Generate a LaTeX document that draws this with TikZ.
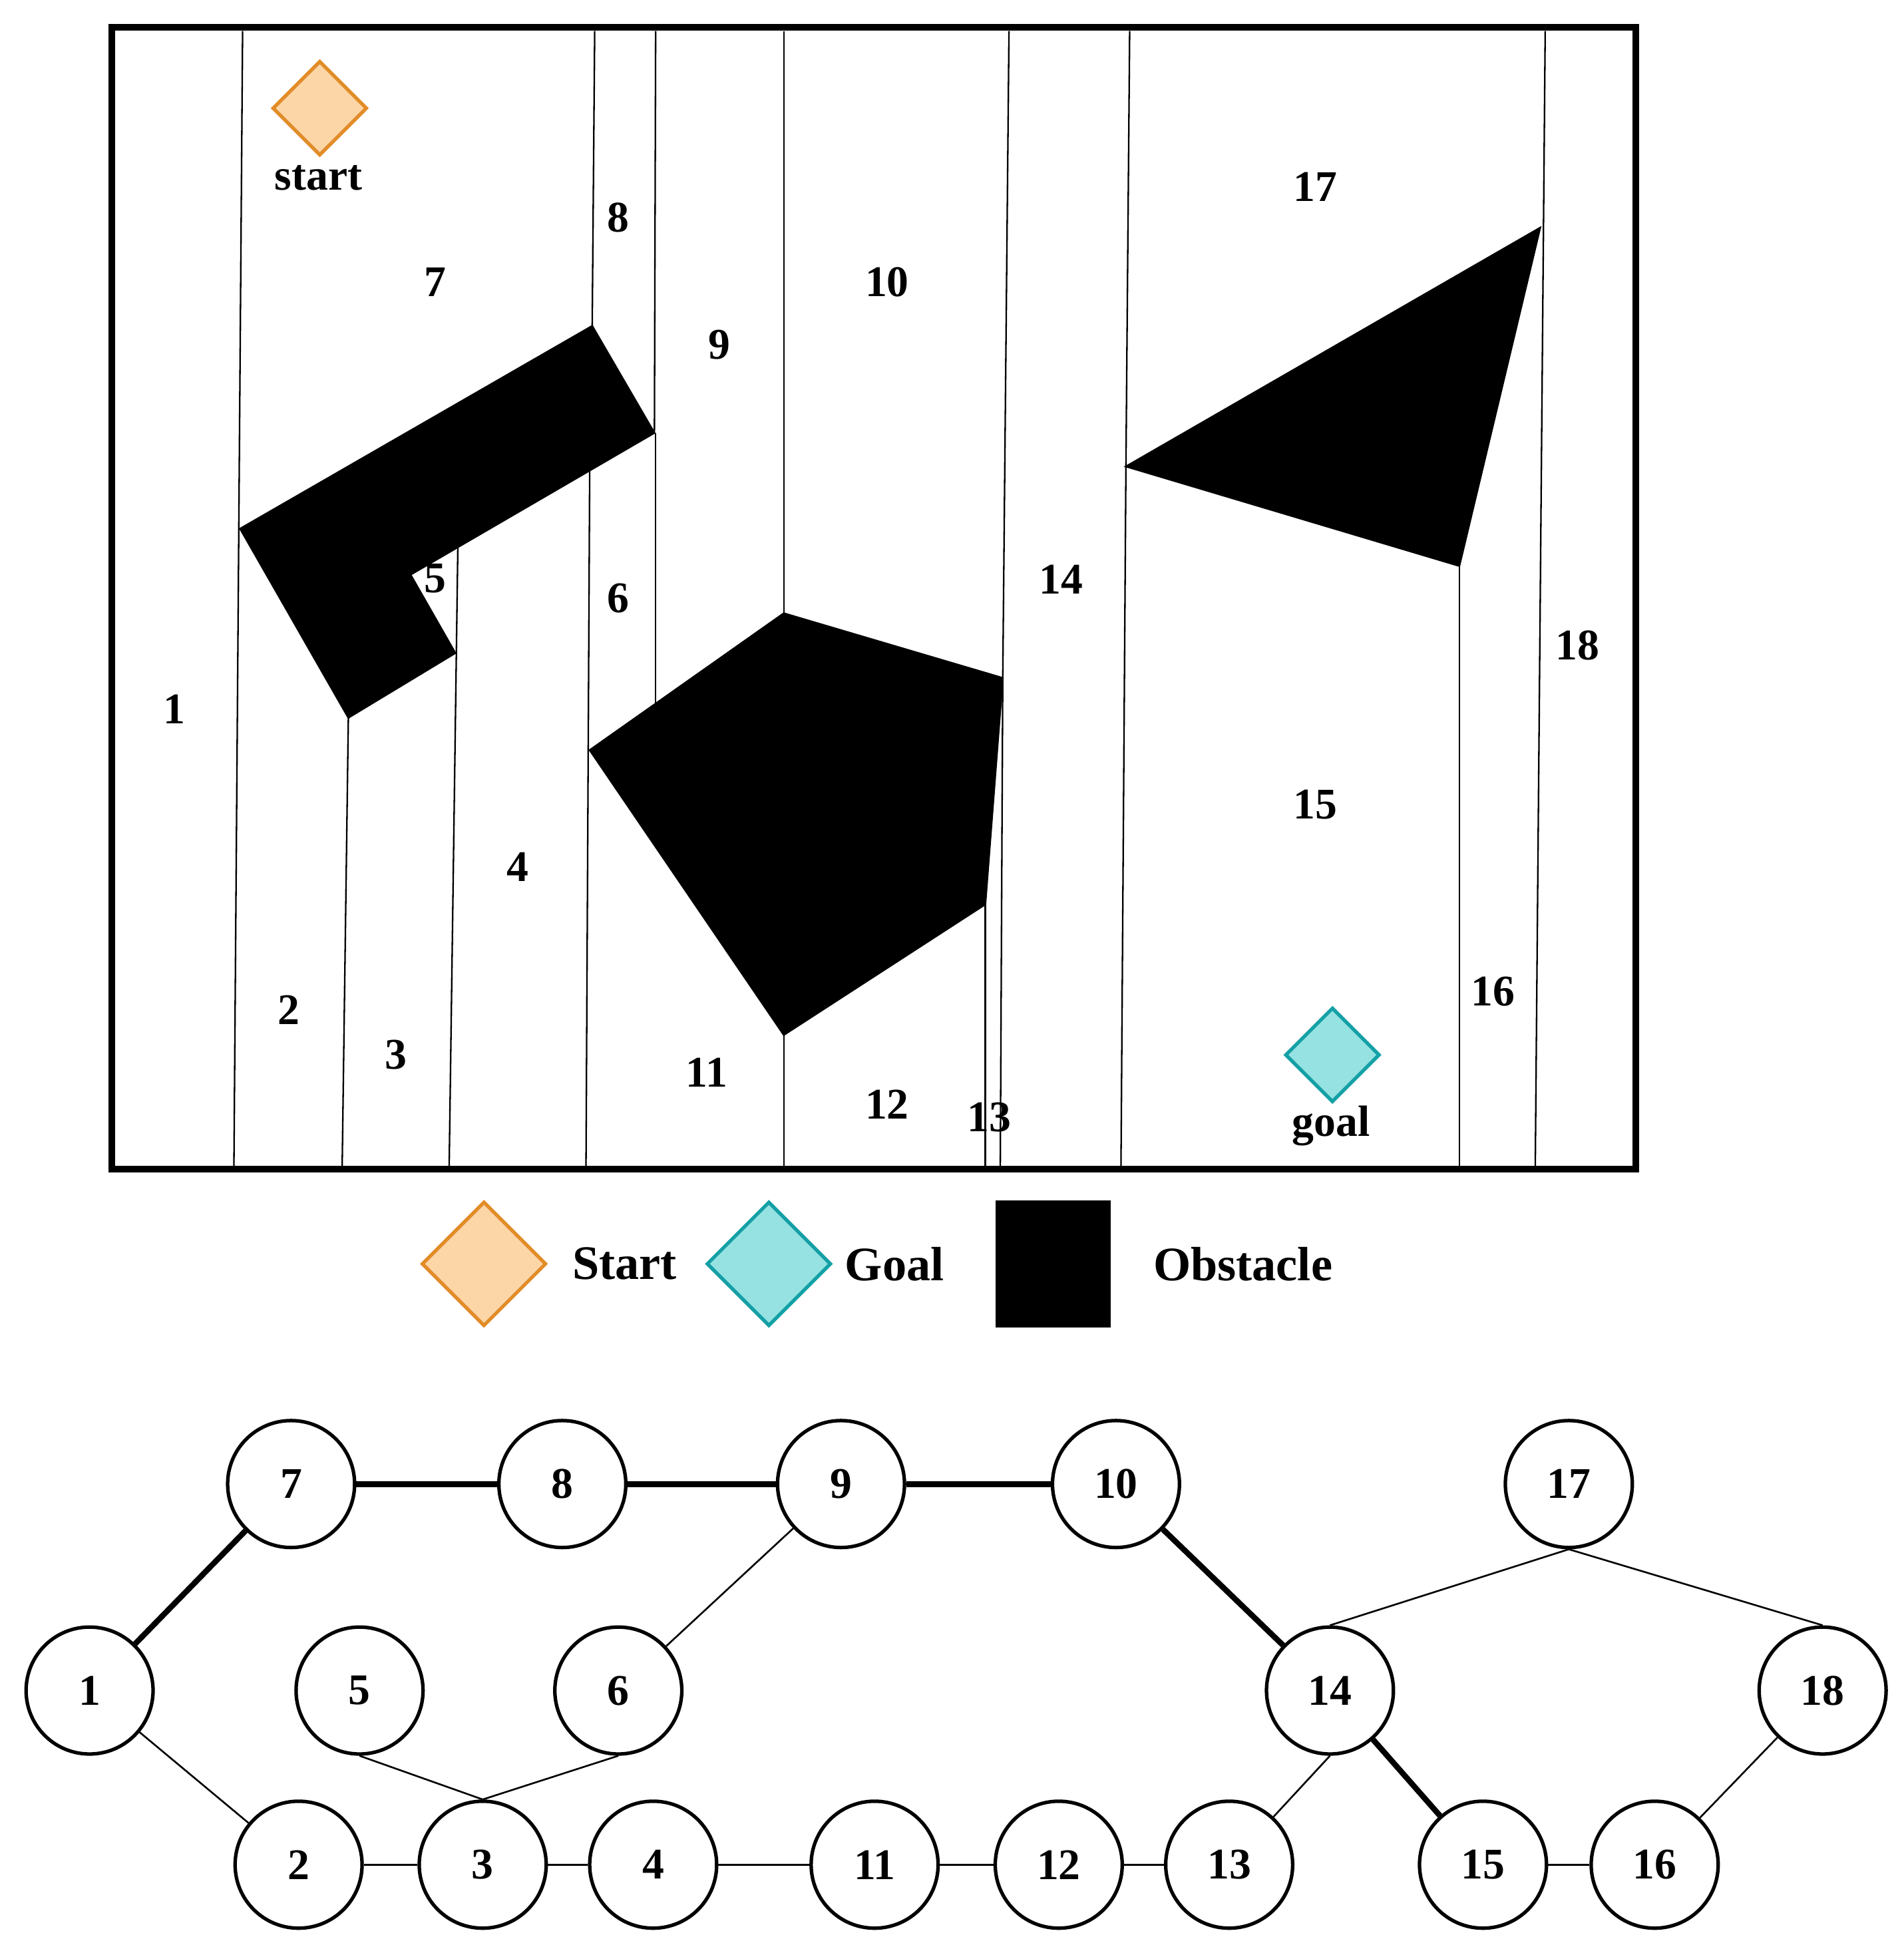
\documentclass[tikz,border=0pt]{standalone}
\usepackage{fontspec}
\setmainfont{Liberation Serif}
\usetikzlibrary{shapes.geometric}
\definecolor{startc}{RGB}{253,214,168}
\definecolor{startd}{RGB}{226,140,40}
\definecolor{goalc}{RGB}{150,226,226}
\definecolor{goald}{RGB}{20,160,165}
\begin{document}
\begin{tikzpicture}[x=0.01cm,y=-0.01cm,
  lab/.style={font=\fontsize{10}{12}\selectfont\bfseries},
  leg/.style={font=\fontsize{11}{13}\selectfont\bfseries},
  thinl/.style={line width=0.35pt},
  obs/.style={fill=black,draw=black},
  gn/.style={circle,draw,line width=0.8pt,minimum size=1.02cm,inner sep=0pt,font=\fontsize{10}{12}\selectfont\bfseries},
  te/.style={line width=1.3pt},
  fe/.style={line width=0.4pt}]
\useasboundingbox (0,0) rectangle (1530,1570);
% obstacles
\path[obs] (193,425)--(476,262)--(526,348)--(330,462)--(366,525)--(280,577)--cycle;
\path[obs] (630,493)--(806,545)--(792,727)--(630,832)--(474,603)--cycle;
\path[obs] (905,375)--(1238,183)--(1173,455)--cycle;
% decomposition lines
\draw[thinl] (195,25)--(188,940);
\draw[thinl] (280,577)--(275,940);
\draw[thinl] (368,440)--(361,940);
\draw[thinl] (478,25)--(476,262);
\draw[thinl] (474,375)--(471,940);
\draw[thinl] (527,25)--(526,348);
\draw[thinl] (527,348)--(527,567);
\draw[thinl] (630,25)--(630,493);
\draw[thinl] (630,832)--(630,940);
\draw[thinl] (811,25)--(806,545)--(804,940);
\draw[thinl] (792,727)--(792,940);
\draw[thinl] (908,25)--(905,375)--(901,940);
\draw[thinl] (1173,455)--(1173,940);
\draw[thinl] (1242,25)--(1234,940);
\draw[line width=1.5pt] (90,22) rectangle (1315,940);
% start / goal
\node[diamond,draw=startd,fill=startc,minimum size=0.76cm,inner sep=0pt,line width=0.8pt] (st) at (257,87) {};
\node[lab] (stl) at (256,143) {start};
\node[diamond,draw=goald,fill=goalc,minimum size=0.76cm,inner sep=0pt,line width=0.8pt] (go) at (1071,848) {};
\node[lab] (gol) at (1070,905) {goal};
% region labels
\foreach \t/\x/\y in {1/140/570,2/232/812,3/318/848,4/416/697,5/350/465,6/497/481,7/350/227,8/497/175,9/578/277,10/713/227,11/568/862,12/713/888,13/795/898,14/853/466,15/1057/647,16/1200/797,17/1057/150,18/1268/519}
  \node[lab] (r\t) at (\x,\y) {\t};
% legend
\node[diamond,draw=startd,fill=startc,minimum size=1.0cm,inner sep=0pt,line width=0.8pt] (ls) at (389,1016) {};
\node[leg] (lst) at (502,1016) {Start};
\node[diamond,draw=goald,fill=goalc,minimum size=1.0cm,inner sep=0pt,line width=0.8pt] (lg) at (618,1016) {};
\node[leg] (lgt) at (719,1016) {Goal};
\node[fill=black,minimum width=0.93cm,minimum height=1.02cm,inner sep=0pt] (lo) at (846.5,1016) {};
\node[leg] (lot) at (999,1016) {Obstacle};
% graph
\foreach \n/\x/\y in {7/234/1193,8/452/1193,9/676/1193,10/897/1193,17/1261/1193,1/72/1359,5/289/1359,6/497/1359,14/1069/1359,18/1465/1359,2/240/1499,3/388/1499,4/525/1499,11/703/1499,12/851/1499,13/988/1499,15/1192/1499,16/1330/1499}
  \node[gn] (n\n) at (\x,\y) {\n};
\draw[te] (n1)--(n7); \draw[te] (n7)--(n8); \draw[te] (n8)--(n9); \draw[te] (n9)--(n10);
\draw[te] (n10)--(n14); \draw[te] (n14)--(n15);
\draw[fe] (n9)--(n6); \draw[fe] (n6.south)--(n3.north); \draw[fe] (n5.south)--(n3.north);
\draw[fe] (n1)--(n2); \draw[fe] (n2)--(n3); \draw[fe] (n3)--(n4); \draw[fe] (n4)--(n11);
\draw[fe] (n11)--(n12); \draw[fe] (n12)--(n13); \draw[fe] (n13)--(n14.south);
\draw[fe] (n17.south)--(n14.north); \draw[fe] (n17.south)--(n18.north);
\draw[fe] (n15)--(n16); \draw[fe] (n16)--(n18);
\end{tikzpicture}
\end{document}
